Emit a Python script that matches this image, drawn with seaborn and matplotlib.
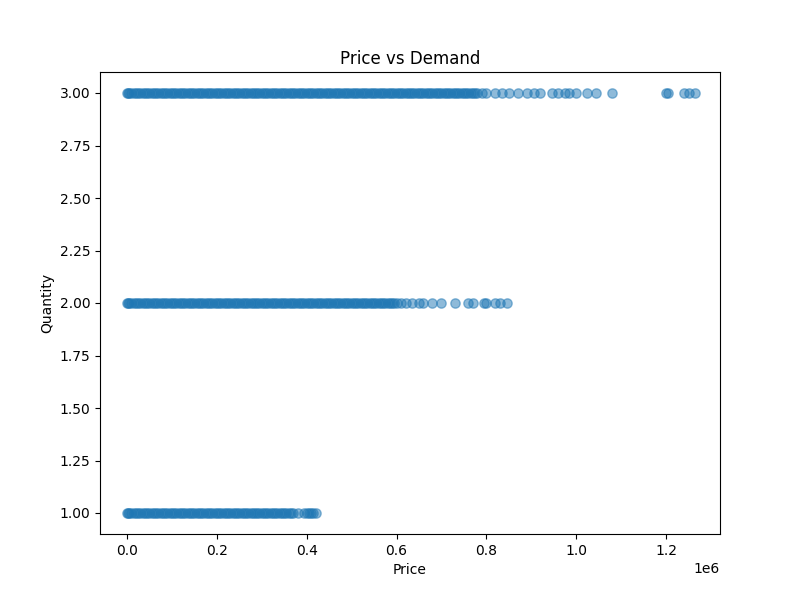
import matplotlib
matplotlib.use("Agg")
import matplotlib.pyplot as plt
import pandas as pd
import seaborn as sns

# prices in thousands
price_q1 = [0, 2, 5, 10, 20, 30, 40, 50, 60, 70, 80, 90, 100, 110, 120, 130, 140, 150,
            160, 170, 180, 190, 200, 210, 220, 230, 240, 250, 260, 270, 280, 290, 300,
            310, 320, 330, 340, 350, 360, 370, 380, 395, 400, 405, 410, 415, 420]
fill_q1 = [15, 25, 35, 45, 55, 65, 75, 85, 95, 105, 115, 125, 135, 145, 155, 165, 175,
           185, 195, 205, 215, 225, 235, 245, 255, 265, 275, 285, 295, 305, 315, 325,
           335, 345, 355, 365]
price_q2 = [0, 2, 5, 10, 20, 30, 40, 50, 60, 70, 80, 90, 100, 110, 120, 130, 140, 150,
            160, 170, 180, 190, 200, 210, 220, 230, 240, 250, 260, 270, 280, 290, 300,
            310, 320, 330, 340, 350, 360, 370, 380, 390, 400, 410, 420, 430, 440, 450,
            460, 470, 480, 490, 500, 510, 520, 530, 540, 550, 560, 570, 580, 590, 600,
            610, 620, 635, 650, 660, 680, 700, 730, 760, 770, 795, 800, 820, 830, 845]
fill_q2 = [15, 25, 35, 45, 55, 65, 75, 85, 95, 105, 115, 125, 135, 145, 155, 165, 175,
           185, 195, 205, 215, 225, 235, 245, 255, 265, 275, 285, 295, 305, 315, 325,
           335, 345, 355, 365, 375, 385, 395, 405, 415, 425, 435, 445, 455, 465, 475,
           485, 495, 505, 515, 525, 535, 545, 555, 565, 575, 585, 595]
price_q3 = [0, 2, 5, 10, 20, 30, 40, 50, 60, 70, 80, 90, 100, 110, 120, 130, 140, 150,
            160, 170, 180, 190, 200, 210, 220, 230, 240, 250, 260, 270, 280, 290, 300,
            310, 320, 330, 340, 350, 360, 370, 380, 390, 400, 410, 420, 430, 440, 450,
            460, 470, 480, 490, 500, 510, 520, 530, 540, 550, 560, 570, 580, 590, 600,
            610, 620, 630, 640, 650, 660, 670, 680, 690, 700, 710, 720, 730, 740, 750,
            760, 770, 780, 790, 800, 820, 835, 850, 870, 890, 905, 920, 945, 960, 975,
            985, 1000, 1025, 1045, 1080, 1200, 1205, 1240, 1250, 1265]
fill_q3 = [15, 25, 35, 45, 55, 65, 75, 85, 95, 105, 115, 125, 135, 145, 155, 165, 175,
           185, 195, 205, 215, 225, 235, 245, 255, 265, 275, 285, 295, 305, 315, 325,
           335, 345, 355, 365, 375, 385, 395, 405, 415, 425, 435, 445, 455, 465, 475,
           485, 495, 505, 515, 525, 535, 545, 555, 565, 575, 585, 595, 605, 615, 625,
           635, 645, 655, 665, 675, 685, 695, 705, 715, 725, 735, 745, 755, 765, 775]

q1 = price_q1 + fill_q1
q2 = price_q2 + fill_q2
q3 = price_q3 + fill_q3
df = pd.DataFrame({
    "Price": [p * 1000 for p in q1 + q2 + q3],
    "Quantity": [1.0] * len(q1) + [2.0] * len(q2) + [3.0] * len(q3),
})

fig, ax = plt.subplots(figsize=(8, 6), dpi=100)
sns.scatterplot(data=df, x="Price", y="Quantity", ax=ax, color="#1f77b4",
                alpha=0.5, s=45, edgecolor="#1f77b4", linewidth=1)
ax.set_title("Price vs Demand")
ax.set_xlabel("Price")
ax.set_ylabel("Quantity")
ax.set_xlim(-60000, 1320000)
fig.savefig("out.png")
